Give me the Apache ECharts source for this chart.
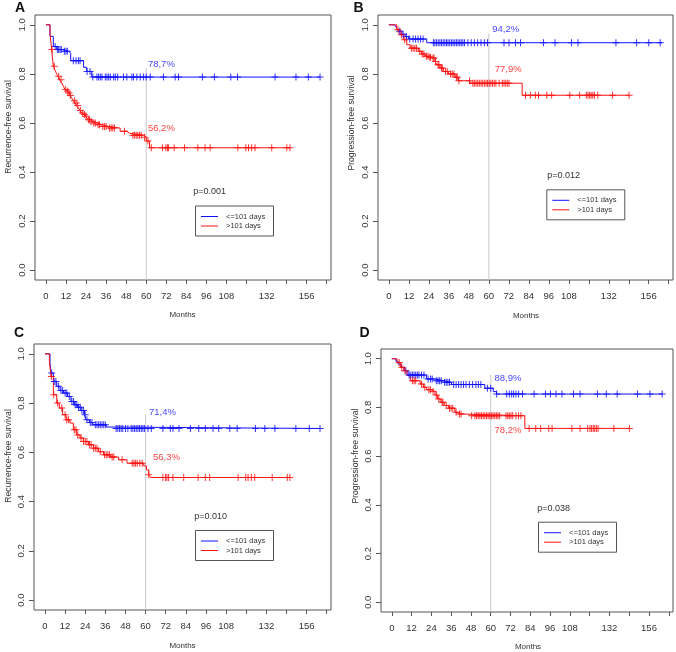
<!DOCTYPE html>
<html><head><meta charset="utf-8">
<script src="https://cdn.jsdelivr.net/npm/echarts@6/dist/echarts.min.js"></script>
<style>html,body{margin:0;padding:0;background:#fff}#c{width:676px;height:652px}</style>
</head><body><div id="c"></div>
<script>
// ---------- DATA ----------
const xTicks = [0,12,24,36,48,60,72,84,96,108,120,132,144,156,168];
const xTickLabels = [0,12,24,36,48,60,72,84,96,108,132,156];
const yTicks = [0,0.2,0.4,0.6,0.8,1.0];
const panelLetters = ['A','B','C','D'];
const yTitles = ['Recurrence-free survival','Progression-free survival','Recurrence-free survival','Progression-free survival'];
const pValues = ['p=0.001','p=0.012','p=0.010','p=0.038'];
const legendNames = ['<=101 days','>101 days'];
const refLineX = 60;
const refLineTop = [0.823, 0.965, 0.755, 0.935];
const blueLabels = ['78,7%','94,2%','71,4%','88,9%'];
const blueLabelPos = [[61,0.839],[62,0.983],[62,0.762],[62.3,0.918]];
const redLabels = ['56,2%','77,9%','56,3%','78,2%'];
const redLabelPos = [[61,0.578],[63.5,0.82],[64.4,0.579],[62.3,0.706]];

// Panel A
const A_blue_t = [0,2.4,4.4,6.4,10.4,13.4,14.8,22.5,24.4,27.4,164];
const A_blue_s = [1,0.953,0.912,0.899,0.892,0.885,0.854,0.827,0.81,0.787,0.787];
const A_blue_c = [5.5,6.8,7.6,8.4,9.2,11,12,12.8,16.4,18,19.4,20.4,24.6,26.4,28,30.5,31.5,32.5,33.5,35.5,36.5,37.5,38.5,40.5,41.5,42.9,46.4,48.4,51.4,52.4,54.4,56.4,58.4,60,62.4,70.3,77.3,79.3,93.6,100.8,110.6,114.6,137.1,149.6,157,164];
const A_red_t = [0,2.4,3.4,4.4,5.4,6.4,7.4,8.4,9.4,10.4,11.4,12.4,13.4,14.4,15.4,16.4,17.4,18.4,19.4,20.4,21.4,22.4,23.4,24.4,25.4,26.9,28.4,31,33.4,37.4,44.4,48.4,50,58.4,60,62,146];
const A_red_s = [1,0.967,0.899,0.831,0.815,0.80,0.79,0.776,0.763,0.75,0.736,0.729,0.722,0.712,0.702,0.691,0.681,0.671,0.661,0.651,0.641,0.634,0.627,0.62,0.613,0.606,0.6,0.593,0.586,0.579,0.566,0.558,0.55,0.542,0.526,0.499,0.499];
const A_red_c = [3.6,5,7.6,9,11.8,13,13.8,14.6,17,18,19,20.6,22,23,24,25.6,26,27,28.6,29.5,31.2,32,34,35,36,38,39,40,41,47,52,53,54,55,56,57,59,61,63,69.7,71.7,72.7,73.3,76.7,82.9,90.9,95.2,98.2,114.8,119.6,121.2,123.1,125.1,135.1,144.1,146];

// Panel B
const B_blue_t = [0,3.5,4.7,5.7,7.7,9.7,11.7,22.7,164];
const B_blue_s = [1,0.993,0.985,0.974,0.962,0.952,0.942,0.927,0.927];
const B_blue_c = [6.5,8.5,10.5,12.5,14.5,16,17.5,19,20.5,26.7,27.6,28.6,29.6,30.6,31.6,32.6,33.6,34.6,35.5,36.5,37.5,38.5,39.5,40.5,41.5,42.5,43.4,44.4,45.4,47.4,49.4,51.3,53.3,55.3,57.3,59.2,69.1,72.1,76,79,92.8,99.7,109.6,113.5,136.3,148.7,156,162.9];
const B_red_t = [0,4.7,6.7,8.7,10.7,12.7,17.7,19.7,21.7,23.7,25.7,27.7,28.7,30.7,32.7,35.7,39.7,41.7,48.7,80,144];
const B_red_s = [1,0.98,0.96,0.939,0.919,0.905,0.892,0.881,0.872,0.868,0.865,0.851,0.837,0.824,0.81,0.80,0.786,0.772,0.762,0.713,0.713];
const B_red_c = [5.5,7.5,9.5,13.5,14.5,15.5,16.5,18.5,20,21,22.5,23.5,24.5,25,26.5,27,28,29.5,30,31.5,32,34,35,37,38,39,40.5,41,42,48.4,50.4,51.3,52.3,53.3,54.3,55.3,56.3,57.3,58.3,59.2,60.2,61.2,62.2,63.2,64.2,66.2,68.1,69.1,70.1,71.1,72.1,82,84.9,87.9,89.8,94.8,97.7,108.6,114.5,118.5,119.5,120.5,121.4,122.4,123.4,125.4,134.3,144.2];

// Panel C
const C_blue_t = [0,3,3.6,5,7,9,11,13.5,15.5,17.5,19.5,21.5,23.5,24.5,26.5,28.5,36.5,37.5,164];
const C_blue_s = [1,0.963,0.922,0.888,0.868,0.851,0.841,0.827,0.807,0.793,0.783,0.77,0.753,0.732,0.721,0.712,0.703,0.697,0.697];
const C_blue_c = [4,5.5,6.5,8,9.5,10.5,12,13,14.5,16,17,18,19,20,21,22,23,24,25,27,28,30,31,32,33,34,35,36,42.4,43.4,44.4,45.4,46.4,48,49.4,51.4,52.4,53.4,54.4,55.4,56.4,57.4,58.4,59.4,61.4,63.4,70.3,74.7,76.3,79.9,86.7,91.7,95.6,100.2,103.6,110.2,114.6,125.5,131.1,137.1,149.6,157.6,164];
const C_red_t = [0,2.6,3.6,5,7,8.5,10.5,12.5,14.9,16.9,18.9,20.9,22.9,25.9,28.9,31.9,34.9,38.9,43.9,48.9,58.9,60.5,61.9,62.9,146];
const C_red_s = [1,0.969,0.908,0.834,0.80,0.78,0.753,0.732,0.719,0.692,0.671,0.658,0.644,0.631,0.617,0.603,0.59,0.581,0.57,0.556,0.545,0.529,0.509,0.498,0.498];
const C_red_c = [3.8,5.2,7.5,10,12,13,14,17.5,18.5,19.5,21.5,23,24,25,26.5,27.5,29,30,31,33,35.5,36.5,37.5,38.5,40,41,46,52,53,54,55,56.5,58,61.9,70.3,71.9,72.7,73.7,76.3,82.7,91.3,95.6,98.2,115.2,119.7,121.1,123.1,125.1,135.5,144.5,146];

// Panel D
const D_blue_t = [0,2.5,3.8,5.8,7.8,9.8,21,26,31.1,36.2,56.4,61.5,63.5,164];
const D_blue_s = [1,0.99,0.978,0.965,0.951,0.933,0.917,0.91,0.903,0.894,0.879,0.865,0.855,0.855];
const D_blue_c = [8.5,10.5,11.5,12.5,13.5,14.5,15.5,16.5,18,19.5,22,23.5,24.5,27,28,29,30,32,33,34,35,37.5,39,40.5,42,43.5,45,47,49,51,52.5,54,58,60,63.6,69.7,71.3,72.7,73.9,75.3,76.9,79.3,86.3,93.2,96.2,99.6,103.2,110.2,114.2,124.7,130.1,136.7,149,156.6,164];
const D_red_t = [0,3.2,5.2,7.2,9.2,11.2,17.2,19.2,21.2,24.2,26.2,27.8,29.8,31.8,34.3,38.3,40.3,42.3,80.7,144];
const D_red_s = [1,0.985,0.965,0.951,0.931,0.91,0.896,0.883,0.873,0.865,0.851,0.835,0.821,0.808,0.797,0.78,0.773,0.766,0.714,0.714];
const D_red_c = [4.5,6,8,12.5,13.5,14.5,18,20,22.5,23.5,25,27,28.5,30.5,31,33,35,36,37,39,41,42,48.4,50.4,51.4,52.4,53.4,54.4,55.4,56.4,57.4,58.4,59.4,60.4,61.4,62.4,63.4,64.4,65.4,69.3,70.3,71.3,72.3,73.3,75.3,76.9,78.3,83.3,87.3,90.3,95.2,97.2,109.2,114.2,118.8,120.2,121.2,122.2,123.1,124.1,125.1,134.7,144.1];

// ---------- LAYOUT / STYLE ----------
const FONT = 'Liberation Sans, Arial, sans-serif';
const BLUE = '#1010ff', RED = '#ff1010', AXIS = '#555', TXT = '#333';
const grids = [
  {left:35, top:15, width:296, height:265},
  {left:378, top:15, width:295, height:265},
  {left:34, top:344, width:297, height:266},
  {left:381, top:349, width:292, height:263}
];
const curves = [
  [A_blue_t,A_blue_s,A_blue_c,A_red_t,A_red_s,A_red_c],
  [B_blue_t,B_blue_s,B_blue_c,B_red_t,B_red_s,B_red_c],
  [C_blue_t,C_blue_s,C_blue_c,C_red_t,C_red_s,C_red_c],
  [D_blue_t,D_blue_s,D_blue_c,D_red_t,D_red_s,D_red_c]
];
const yTitlePos = [[8.5,127],[351.5,123],[8.5,456],[355.5,456]];
const monthsPos = [[182.5,315],[526,316],[182.5,646],[528,647]];
const letterPos = [[20,8.5],[358.5,8],[19,333],[364.5,333]];
const pPos = [[193.3,191.7],[547.3,175.7],[194.3,516.7],[537.3,508.3]];
const legPos = [[195,205.5],[546.3,189.3],[195,530],[538,521.7]];

function stepAt(ts, ss, t){ let v = ss[0]; for (let i=0;i<ts.length;i++){ if (ts[i] <= t) v = ss[i]; } return v; }
const PLUS = 'path://M3,0h1v3h3v1h-3v3h-1v-3h-3v-1h3z';

const option = {animation:false, backgroundColor:'#fff', grid:[], xAxis:[], yAxis:[], series:[], graphic:[]};
grids.forEach((g,i)=>{
  option.grid.push(Object.assign({show:true, borderColor:AXIS, borderWidth:1, backgroundColor:'transparent', containLabel:false}, g));
  option.xAxis.push({type:'value', gridIndex:i, min:-6.56, max:170.56, position:'bottom',
    axisLine:{show:false, onZero:false}, splitLine:{show:false},
    axisTick:{show:true, inside:false, length:4, lineStyle:{color:AXIS}, customValues:xTicks},
    axisLabel:{show:true, customValues:xTickLabels, color:TXT, fontSize:9.5, fontFamily:FONT, margin:11}});
  option.yAxis.push({type:'value', gridIndex:i, min:-0.04, max:1.04, position:'left',
    axisLine:{show:false, onZero:false}, splitLine:{show:false},
    axisTick:{show:true, inside:false, length:5, lineStyle:{color:AXIS}, customValues:yTicks},
    axisLabel:{show:true, customValues:yTicks, rotate:90, color:TXT, fontSize:9.5, fontFamily:FONT, margin:8,
      formatter:v=>Number(v).toFixed(1)}});
  const [bt,bs,bc,rt,rs,rc] = curves[i];
  option.series.push({type:'line', xAxisIndex:i, yAxisIndex:i, data:[[refLineX,-0.04],[refLineX,refLineTop[i]]],
    showSymbol:false, symbol:'none', lineStyle:{color:'#c8c8c8', width:1}, silent:true, z:1});
  const addCurve=(ts,ss,cs,col)=>{
    option.series.push({type:'line', xAxisIndex:i, yAxisIndex:i, step:'end', symbol:'none', showSymbol:false,
      data: ts.map((t,k)=>[t,ss[k]]), lineStyle:{color:col, width:1}, z:3});
    option.series.push({type:'scatter', xAxisIndex:i, yAxisIndex:i, symbol:PLUS, symbolSize:7,
      data: cs.map(t=>[t, stepAt(ts,ss,t)]), itemStyle:{color:col, opacity:0.85}, z:4});
  };
  addCurve(bt,bs,bc,BLUE);
  addCurve(rt,rs,rc,RED);
  option.series.push({type:'scatter', xAxisIndex:i, yAxisIndex:i, symbolSize:0, z:5,
    data:[{value:blueLabelPos[i], name:blueLabels[i], label:{color:BLUE}},
          {value:redLabelPos[i], name:redLabels[i], label:{color:RED}}],
    label:{show:true, position:'right', distance:0, formatter:p=>p.name, fontSize:9.5, fontFamily:FONT}});
  option.graphic.push({type:'text', x:letterPos[i][0], y:letterPos[i][1],
    style:{text:panelLetters[i], font:'bold 14px '+FONT, fill:'#111', align:'center', verticalAlign:'middle'}});
  option.graphic.push({type:'text', x:yTitlePos[i][0], y:yTitlePos[i][1], rotation:Math.PI/2,
    style:{text:yTitles[i], font:'8.6px '+FONT, fill:TXT, align:'center', verticalAlign:'middle'}});
  option.graphic.push({type:'text', x:monthsPos[i][0], y:monthsPos[i][1],
    style:{text:'Months', font:'8px '+FONT, fill:TXT, align:'center', verticalAlign:'middle'}});
  option.graphic.push({type:'text', x:pPos[i][0], y:pPos[i][1],
    style:{text:pValues[i], font:'9px '+FONT, fill:TXT, align:'left', verticalAlign:'middle'}});
  const [lx,ly] = legPos[i];
  option.graphic.push({type:'rect', shape:{x:lx+0.5, y:ly+0.5, width:78, height:30},
    style:{fill:'#fff', stroke:AXIS, lineWidth:1}, z:10});
  [BLUE,RED].forEach((col,k)=>{
    const yy = ly + 11 + k*9.5;
    option.graphic.push({type:'line', shape:{x1:lx+6, y1:yy, x2:lx+23, y2:yy}, style:{stroke:col, lineWidth:1}, z:11});
    option.graphic.push({type:'text', x:lx+31, y:yy, style:{text:legendNames[k], font:'7.5px '+FONT, fill:TXT, align:'left', verticalAlign:'middle'}, z:11});
  });
});
const chart = echarts.init(document.getElementById('c'), null, {renderer:'canvas'});
chart.setOption(option);
</script></body></html>
